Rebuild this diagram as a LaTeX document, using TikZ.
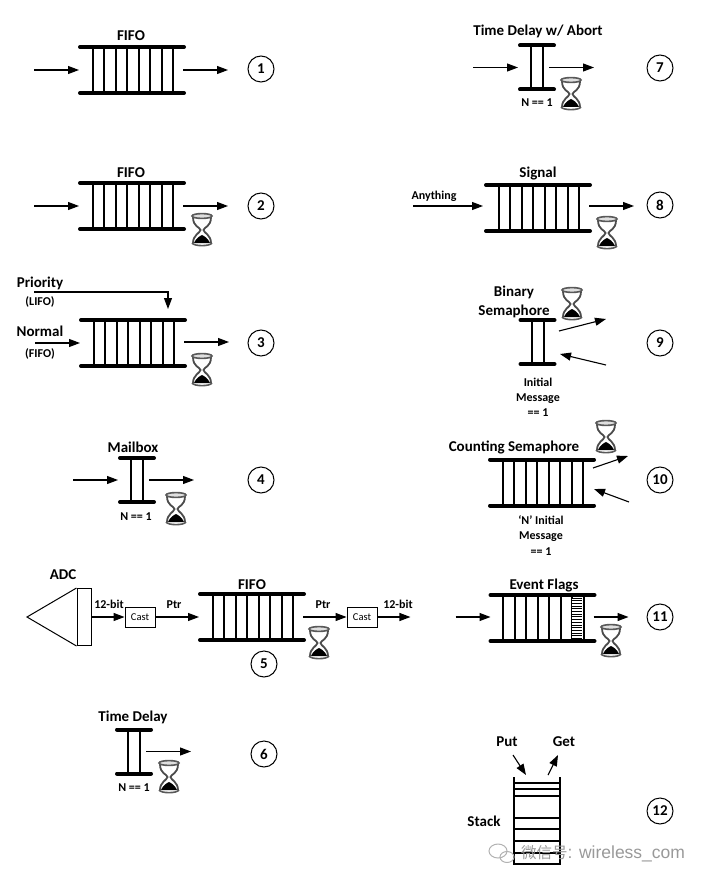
\documentclass[tikz,border=0pt]{standalone}
\usepackage{fontspec}
\setmainfont{Carlito}
\newfontfamily\cjk{Noto Sans CJK SC}
\newfontfamily\markfont{Liberation Sans}
\usetikzlibrary{arrows.meta}

\tikzset{
    bar/.style={line width=4pt, line cap=round},
    rung/.style={line width=2pt},
    flow/.style={line width=1.1pt, -{Triangle[length=11pt,width=8pt]}},
    tag/.style={font=\fontsize{15}{15}\selectfont\bfseries, inner sep=0pt, text height=10pt, text depth=3pt, yshift=-1.25pt},
    note/.style={font=\fontsize{12}{12}\selectfont\bfseries, inner sep=0pt, text height=8.5pt, text depth=2.5pt, yshift=-0.85pt},
    num/.style={draw, circle, line width=1pt, minimum size=26pt, inner sep=0pt, font=\fontsize{15}{15}\selectfont\bfseries},
    castbox/.style={draw, line width=0.9pt, minimum width=30pt, minimum height=20pt, inner sep=0pt, font=\fontsize{10.5}{10.5}\selectfont},
    queue/.pic={
        \foreach \x in {0,...,7} \draw[rung] (-39.5+11.5*\x,-23) -- (-39.5+11.5*\x,23);
        \draw[bar] (-52,-23) -- (52,-23);
        \draw[bar] (-52,23) -- (52,23);
        \coordinate (-in) at (-53,0);
        \coordinate (-out) at (51,0);
    },
    narrow/.pic={
        \draw[rung] (-6,-22) -- (-6,22);
        \draw[rung] (6,-22) -- (6,22);
        \draw[bar] (-17,-22) -- (17,-22);
        \draw[bar] (-17,22) -- (17,22);
        \coordinate (-in) at (-19,0);
        \coordinate (-out) at (12,0);
    },
    hourglass/.pic={
        \draw[line width=1.8pt, gray!60!black] (-9,-13) .. controls (-9,-3) and (-2,-3) .. (-1.5,0) .. controls (-2,3) and (-9,5) .. (-9,13);
        \draw[line width=1.8pt, gray!60!black] (9,-13) .. controls (9,-3) and (2,-3) .. (1.5,0) .. controls (2,3) and (9,5) .. (9,13);
        \fill[black] (-8,13) .. controls (-6,8) and (-2,6) .. (0,5) .. controls (2,6) and (6,8) .. (8,13) -- cycle;
        \draw[line width=1.6pt, gray!70!black, fill=gray!25] (0,-14) ellipse (10 and 2.4);
        \draw[line width=1.6pt, gray!70!black] (-10,13) .. controls (-8,16.5) and (8,16.5) .. (10,13);
    }
}

\begin{document}
\begin{tikzpicture}[x=1pt, y=-1pt]
    \useasboundingbox (0,0) rectangle (713,885);

    % queues
    \pic (q1) at (132,70) {queue};
    \pic (q2) at (132,206) {queue};
    \pic (q3) at (133,343) {queue};
    \pic (q4) at (137,480) {narrow};
    \pic (q5) at (252,617) {queue};
    \pic (q6) at (134,751.5) {narrow};
    \pic (q7) at (537,67.5) {narrow};
    \pic (q8) at (538,208) {queue};
    \pic (q9) at (537.5,342) {narrow};
    \pic (q10) at (542,482.5) {queue};
    \pic (q11) at (542.5,618) {queue};

    % hourglasses
    \pic at (202,230) {hourglass};
    \pic at (202,370) {hourglass};
    \pic at (176,509) {hourglass};
    \pic at (319,643) {hourglass};
    \pic at (169,777) {hourglass};
    \pic at (571,94) {hourglass};
    \pic at (607,233) {hourglass};
    \pic at (572,304) {hourglass};
    \pic at (606,437) {hourglass};
    \pic at (611,641) {hourglass};

    % numbers
    \node[num] (n1) at (261,69) {1};
    \node[num] (n2) at (261,206) {2};
    \node[num] (n3) at (261,343) {3};
    \node[num] (n4) at (261,480) {4};
    \node[num] (n5) at (264,664) {5};
    \node[num] (n6) at (264,754) {6};
    \node[num] (n7) at (660,68) {7};
    \node[num] (n8) at (660,205) {8};
    \node[num] (n9) at (660,343) {9};
    \node[num] (n10) at (660,480) {10};
    \node[num] (n11) at (660,617) {11};
    \node[num] (n12) at (660,811) {12};

    % left labels
    \node[tag] (fifo1) at (131,36) {FIFO};
    \node[tag] (fifo2) at (131,173) {FIFO};
    \node[tag] (priority) at (40,283) {Priority};
    \node[note] (lifo) at (40,302) {(LIFO)};
    \node[tag] (normal) at (40,332) {Normal};
    \node[note] (fifonote) at (40,354) {(FIFO)};
    \node[tag] (mailbox) at (133,447.5) {Mailbox};
    \node[note] (n4note) at (136,517) {N == 1};
    \node[tag] (adclabel) at (63,574.5) {ADC};
    \node[note] (bits1) at (109,605) {12-bit};
    \node[note] (ptr1) at (174,605) {Ptr};
    \node[tag] (fifo5) at (252,584.5) {FIFO};
    \node[note] (ptr2) at (323,605) {Ptr};
    \node[note] (bits2) at (398,605) {12-bit};
    \node[tag] (delay) at (133,717) {Time Delay};
    \node[note] (n6note) at (134,788) {N == 1};

    % right labels
    \node[tag] (abort) at (538,31) {Time Delay w/ Abort};
    \node[note] (n7note) at (537,103) {N == 1};
    \node[tag] (signal) at (538,173) {Signal};
    \node[note] (anything) at (434,196) {Anything};
    \node[tag] (binary) at (514,292) {Binary};
    \node[tag] (semaphore) at (514,311) {Semaphore};
    \node[note] (init1) at (538,383) {Initial};
    \node[note] (msg1) at (538,398) {Message};
    \node[note] (eq1) at (538,413) {== 1};
    \node[tag] (counting) at (514,446.5) {Counting Semaphore};
    \node[note] (init2) at (541,521) {`N' Initial};
    \node[note] (msg2) at (541,536) {Message};
    \node[note] (eq2) at (541,552) {== 1};
    \node[tag] (flags) at (544,585) {Event Flags};
    \node[tag] (put) at (507,742) {Put};
    \node[tag] (get) at (564,742) {Get};
    \node[tag] (stack) at (484,822) {Stack};

    % adc
    \node[draw, line width=1pt, minimum width=14pt, minimum height=57pt, inner sep=0pt] (adc) at (84,617) {};
    \coordinate (apex) at (27,617);
    \draw[line width=1pt] (adc.north west) -- (apex) -- (adc.south west);
    \node[castbox] (cast1) at (140,617) {Cast};
    \node[castbox] (cast2) at (362,617) {Cast};

    % arrows
    \draw[flow] (q1-in) ++(-45,0) -- (q1-in);
    \draw[flow] (q1-out) -- ++(45,0);
    \draw[flow] (q2-in) ++(-45,0) -- (q2-in);
    \draw[flow] (q2-out) -- ++(45,0);
    \draw[flow] (q3-in) ++(-45,0) -- (q3-in);
    \draw[flow] (q3-out) ++(0,-1) -- ++(45,0);
    \coordinate (prio) at (34,292);
    \coordinate (drop) at (168,309);
    \draw[flow] (prio) -| (drop);
    \draw[flow] (q4-in) ++(-45,0) -- (q4-in);
    \draw[flow] (q4-out) -- ++(45,0);
    \draw[flow] (adc.east) -- (cast1.west);
    \draw[flow] (cast1.east) -- (q5-in);
    \draw[flow] (q5-out) -- (cast2.west);
    \draw[flow] (cast2.east) -- ++(33,0);
    \draw[flow] (q6-out) -- ++(45,0);
    \draw[flow] (q7-in) ++(-45,0) -- (q7-in);
    \draw[flow] (q7-out) -- ++(45,0);
    \draw[flow] (q8-in) ++(-72,-2) -- ++(70,0);
    \draw[flow] (q8-out) ++(0,-2) -- ++(45,0);

    % semaphores
    \coordinate (s1) at (559,331);
    \coordinate (s2) at (606,319);
    \coordinate (s3) at (606,365);
    \coordinate (s4) at (560,354);
    \draw[flow] (s1) -- (s2);
    \draw[flow] (s3) -- (s4);
    \coordinate (c1) at (593,468);
    \coordinate (c2) at (628,456);
    \coordinate (c3) at (629,502);
    \coordinate (c4) at (594,489);
    \draw[flow] (c1) -- (c2);
    \draw[flow] (c3) -- (c4);
    \draw[flow] (q11-in) ++(-34,-1) -- ++(35,0);
    \draw[flow] (q11-out) ++(0,-1) -- ++(35,0);

    % flags
    \fill[white] (572,598) rectangle (581,638);
    \foreach \y in {598,600.7,...,639} \draw[line width=0.9pt] (571,\y) -- (582,\y);

    % stack
    \draw[line width=2pt] (513.5,777) -- (513.5,865);
    \draw[line width=2pt] (559.5,777) -- (559.5,865);
    \foreach \y in {783,789,796,818,829,841,853,864} \draw[line width=1.6pt] (513.5,\y) -- (559.5,\y);
    \coordinate (p1) at (513,755);
    \coordinate (p2) at (526,775);
    \coordinate (g1) at (548,775);
    \coordinate (g2) at (558,755);
    \draw[flow] (p1) -- (p2);
    \draw[flow] (g1) -- (g2);

    % mark
    \draw[gray!60, line width=1pt] (498,851) ellipse (9 and 7);
    \draw[gray!60, line width=1pt] (507,857) ellipse (7 and 5.5);
    \node[inner sep=0pt, anchor=west, text=gray!80, font=\fontsize{15.5}{15.5}\selectfont] (mark) at (521,854) {{\cjk 微信号}{\markfont\fontsize{17.5}{17.5}\selectfont : wireless\_com}};
\end{tikzpicture}
\end{document}
